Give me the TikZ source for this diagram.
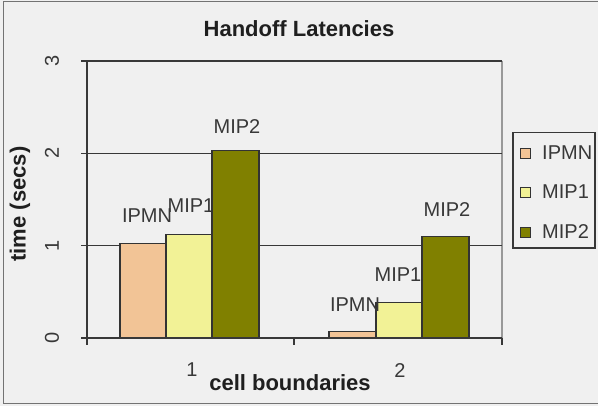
\documentclass[tikz,border=0pt]{standalone}
\usepackage{fontspec}
\setmainfont{Liberation Sans}
\definecolor{bg}{HTML}{F0F0F0}
\definecolor{cipmn}{HTML}{F2C496}
\definecolor{cmipone}{HTML}{F2F296}
\definecolor{cmiptwo}{HTML}{808000}
\definecolor{axisgray}{HTML}{383838}
\begin{document}
\begin{tikzpicture}[x=1pt,y=-1pt,
  grid/.style={draw=axisgray,line width=1.5pt},
  bar/.style={draw=black!80,line width=1.2pt},
  lbl/.style={inner sep=0pt,text=black!78,font=\fontsize{20}{20}\selectfont},
  boldlbl/.style={inner sep=0pt,text=black!88,font=\fontsize{22}{22}\selectfont\bfseries},
  ticklbl/.style={inner sep=0pt,text=black!78,font=\fontsize{20}{20}\selectfont},
  legsq/.style={draw=black!80,line width=0.9pt}]
\useasboundingbox (0,0) rectangle (598,406);
\fill[bg] (0,0) rectangle (598,406);
\draw[black!55,line width=1.5pt] (3.5,1.5) -- (3.5,403.5) -- (600,403.5);
\draw[black!55,line width=1.5pt] (3.5,1.5) -- (600,1.5);
% title
\node[boldlbl] (title) at (299,29) {Handoff Latencies};
% plot area right border
\draw[black!40,line width=1.3pt] (502,61) -- (502,338);
% gridlines
\draw[grid] (81,61) -- (502,61);
\draw[grid] (81,153.3) -- (502,153.3);
\draw[grid] (81,245.7) -- (502,245.7);
% bars IPMN and MIP1
\filldraw[bar,fill=cipmn] (120,338) rectangle (166,243.8);
\filldraw[bar,fill=cmipone] (166,338) rectangle (212,234.6);
\filldraw[bar,fill=cipmn] (329,338) rectangle (376,331.5);
\filldraw[bar,fill=cmipone] (376,338) rectangle (422,302.9);
% labels IPMN, MIP1
\node[lbl] (l1a) at (147,216) {IPMN};
\node[lbl] (l2a) at (355,305) {IPMN};
\node[lbl] (l1b) at (191,206) {MIP1};
\node[lbl] (l2b) at (398,275) {MIP1};
% bars MIP2
\filldraw[bar,fill=cmiptwo] (212,338) rectangle (259,150.6);
\filldraw[bar,fill=cmiptwo] (422,338) rectangle (469,236.4);
\node[lbl] (l1c) at (237,127) {MIP2};
\node[lbl] (l2c) at (447,210) {MIP2};
% axes
\draw[grid] (87,61) -- (87,345);
\draw[grid] (81,338) -- (502,338);
\draw[grid] (294,338) -- (294,345);
\draw[grid] (502,338) -- (502,345);
% y tick labels
\node[ticklbl,rotate=90] (y0) at (52,338) {0};
\node[ticklbl,rotate=90] (y1) at (52,245.7) {1};
\node[ticklbl,rotate=90] (y2) at (52,153.3) {2};
\node[ticklbl,rotate=90] (y3) at (52,61) {3};
\node[boldlbl,rotate=90] (ytitle) at (20,204) {time (secs)};
% x tick labels
\node[ticklbl] (x1) at (192,370) {1};
\node[ticklbl] (x2) at (400,371) {2};
\node[boldlbl] (xtitle) at (290,383) {cell boundaries};
% legend
\draw[axisgray,line width=1.3pt,fill=bg] (513,132.5) rectangle (595,248);
\filldraw[legsq,fill=cipmn] (520,148) rectangle (530,158);
\filldraw[legsq,fill=cmipone] (520,187) rectangle (530,197);
\filldraw[legsq,fill=cmiptwo] (520,227) rectangle (530,237);
\begin{scope}
\clip (513,132.5) rectangle (595,248);
\node[lbl,anchor=west] (leg1) at (542,153) {IPMN};
\node[lbl,anchor=west] (leg2) at (542,192) {MIP1};
\node[lbl,anchor=west] (leg3) at (542,232) {MIP2};
\end{scope}
\end{tikzpicture}
\end{document}
